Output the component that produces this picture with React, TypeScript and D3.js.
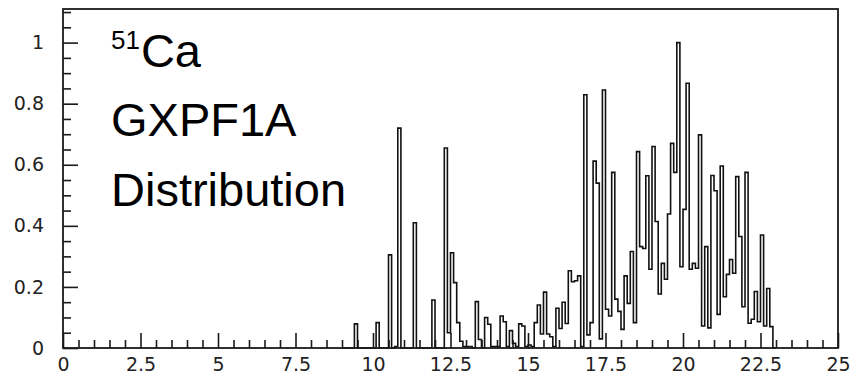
import React, { useEffect, useRef } from 'react';
import * as d3 from 'd3';

// histogram: 0.1 wide bins, first listed bin starts at 9.0
const binStart = 9.0;
const binWidth = 0.1;
const binValues = [
  0, 0, 0, 0, 0.079, 0, 0, 0, 0, 0,
  0, 0.083, 0, 0, 0, 0.305, 0, 0.005, 0.72, 0,
  0, 0, 0, 0.41, 0, 0, 0, 0, 0, 0.157,
  0, 0, 0, 0.655, 0.05, 0.312, 0.214, 0.083, 0.022, 0.005,
  0.005, 0.005, 0, 0.152, 0.028, 0, 0.1, 0.078, 0.005, 0.005,
  0.005, 0.105, 0.086, 0.005, 0.057, 0.015, 0.005, 0.079, 0.072, 0.005,
  0.01, 0.005, 0.083, 0.141, 0.046, 0.183, 0.046, 0.037, 0.005, 0.13,
  0.064, 0.15, 0.08, 0.253, 0.217, 0.22, 0.236, 0.005, 0.829, 0.043,
  0.083, 0.612, 0.54, 0.03, 0.845, 0.127, 0.105, 0.575, 0.16, 0.12,
  0.061, 0.236, 0.146, 0.316, 0.083, 0.643, 0.332, 0.326, 0.564, 0.258,
  0.66, 0.414, 0.177, 0.277, 0.225, 0.439, 0.67, 0.575, 1.0, 0.266,
  0.454, 0.867, 0.258, 0.277, 0.261, 0.698, 0.072, 0.332, 0.066, 0.565,
  0.515, 0.11, 0.596, 0.168, 0.241, 0.29, 0.245, 0.561, 0.365, 0.135,
  0.575, 0.081, 0.094, 0.185, 0.086, 0.37, 0.072, 0.195, 0.07, 0,
];

const xDomain = [0, 25];
const yDomain = [0, 1.11];
const xMajorTicks = [0, 2.5, 5, 7.5, 10, 12.5, 15, 17.5, 20, 22.5, 25];
const xTickLabels = ['0', '2.5', '5', '7.5', '10', '12.5', '15', '17.5', '20', '22.5', '25'];
const yMajorTicks = [0, 0.2, 0.4, 0.6, 0.8, 1];
const yTickLabels = ['0', '0.2', '0.4', '0.6', '0.8', '1'];
const xMinorStep = 0.5;
const yMinorStep = 0.05;

const isotopeMass = '51';
const isotopeName = 'Ca';
const titleLines = ['GXPF1A', 'Distribution'];

export default function App() {
  const ref = useRef<SVGSVGElement>(null);

  useEffect(() => {
    document.body.style.margin = '0';
    const width = 850;
    const height = 374;
    const margin = { top: 9, left: 63, bottom: 26, right: 12 };

    const svg = d3.select(ref.current);
    svg.selectAll('*').remove();
    svg.attr('width', width).attr('height', height);

    const x = d3.scaleLinear().domain(xDomain).range([margin.left, width - margin.right]);
    const y = d3.scaleLinear().domain(yDomain).range([height - margin.bottom, margin.top]);

    const labelFont = "'DejaVu Sans', sans-serif";

    // minor ticks
    const xMinor = d3.range(xDomain[0], xDomain[1] + 1e-6, xMinorStep).filter((v) => !xMajorTicks.includes(v));
    const yMinor = d3.range(yDomain[0], yDomain[1] + 1e-6, yMinorStep)
      .map((v) => +v.toFixed(2))
      .filter((v) => !yMajorTicks.includes(v));

    svg.append('g')
      .attr('transform', `translate(0,${y(0)})`)
      .call(d3.axisBottom(x).tickValues(xMinor).tickSize(-8).tickFormat(() => ''))
      .call((g) => g.select('.domain').remove());

    svg.append('g')
      .attr('transform', `translate(${x(0)},0)`)
      .call(d3.axisLeft(y).tickValues(yMinor).tickSize(-8).tickFormat(() => ''))
      .call((g) => g.select('.domain').remove());

    // major ticks + labels
    const xAxis = svg.append('g')
      .attr('transform', `translate(0,${y(0)})`)
      .call(d3.axisBottom(x).tickValues(xMajorTicks).tickSize(-15).tickPadding(10)
        .tickFormat((d, i) => xTickLabels[i]));
    xAxis.select('.domain').remove();

    const yAxis = svg.append('g')
      .attr('transform', `translate(${x(0)},0)`)
      .call(d3.axisLeft(y).tickValues(yMajorTicks).tickSize(-15).tickPadding(19)
        .tickFormat((d, i) => yTickLabels[i]));
    yAxis.select('.domain').remove();

    svg.selectAll('.tick line').attr('stroke', '#1a1a1a').attr('stroke-width', 1.6);
    svg.selectAll('.tick text')
      .attr('font-family', labelFont)
      .attr('font-size', 19)
      .attr('fill', '#222');

    // histogram outline
    const pts: [number, number][] = [[x(binStart), y(0)]];
    binValues.forEach((v, i) => {
      const x0 = binStart + i * binWidth;
      pts.push([x(x0), y(v)]);
      pts.push([x(x0 + binWidth), y(v)]);
    });
    pts.push([x(binStart + binValues.length * binWidth), y(0)]);

    svg.append('path')
      .attr('d', d3.line()(pts))
      .attr('fill', 'none')
      .attr('stroke', '#111')
      .attr('stroke-width', 1.6);

    // frame
    svg.append('rect')
      .attr('x', x(xDomain[0]))
      .attr('y', y(yDomain[1]))
      .attr('width', x(xDomain[1]) - x(xDomain[0]))
      .attr('height', y(yDomain[0]) - y(yDomain[1]))
      .attr('fill', 'none')
      .attr('stroke', '#1a1a1a')
      .attr('stroke-width', 1.8);

    // annotation
    const textFont = "'Liberation Sans', Arial, sans-serif";
    const t1 = svg.append('text')
      .attr('x', 111).attr('y', 67)
      .attr('font-family', textFont).attr('font-size', 47).attr('fill', '#000');
    t1.append('tspan').attr('font-size', 26).attr('dy', -18).text(isotopeMass);
    t1.append('tspan').attr('dx', 1).attr('dy', 18).text(isotopeName);

    titleLines.forEach((line, i) => {
      svg.append('text')
        .attr('x', 111).attr('y', 136 + i * 70)
        .attr('font-family', textFont).attr('font-size', 47).attr('fill', '#000')
        .text(line);
    });
  }, []);

  return (
    <div>
      <svg ref={ref}></svg>
    </div>
  );
}
